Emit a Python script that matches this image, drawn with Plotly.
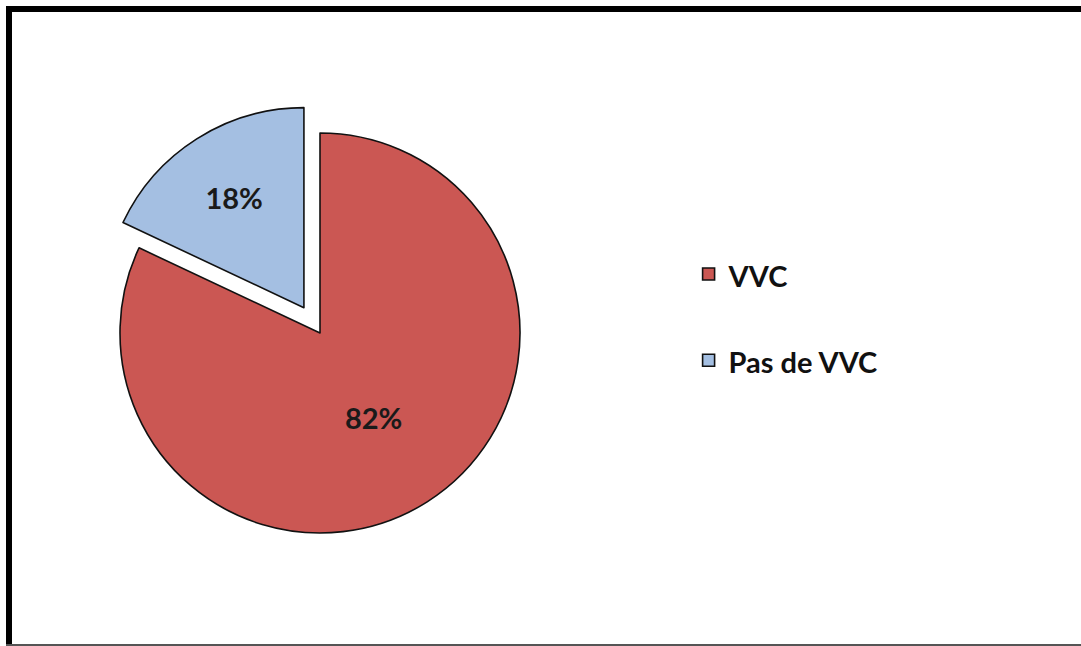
import plotly.graph_objects as go

# Slice data
labels = ["VVC", "Pas de VVC"]
values = [82, 18]
colors = ["#CB5753", "#A4BFE2"]
pulls = [0, 0.15]

W, H = 1081, 646

# Pie centre and radius in pixels; domain sized so radius*(1+pull) fits
cx, cy, r = 320, 333, 200
half = r * (1 + max(pulls))
dom_x = [(cx - half) / W, (cx + half) / W]
dom_y = [(H - cy - half) / H, (H - cy + half) / H]

# Legend labels carry a spacer line to open up the gap between entries
legend_labels = [
    f"<span style='font-size:29px'>{lab}</span><br>\u00a0" for lab in labels
]

fig = go.Figure(
    go.Pie(
        labels=legend_labels,
        values=values,
        sort=False,
        direction="clockwise",
        rotation=0,
        pull=pulls,
        marker=dict(colors=colors, line=dict(color="#111111", width=1.6)),
        texttemplate="%{percent:.0%}",
        textposition="inside",
        insidetextorientation="horizontal",
        textfont=dict(family="Lato", size=29, color="#1a1a1a", weight="bold"),
        domain=dict(x=dom_x, y=dom_y),
        hoverinfo="label+percent",
    )
)

fig.update_layout(
    width=W,
    height=H,
    margin=dict(l=0, r=0, t=0, b=0),
    paper_bgcolor="white",
    plot_bgcolor="white",
    showlegend=True,
    legend=dict(
        x=0.637,
        y=0.618,
        xanchor="left",
        yanchor="top",
        valign="top",
        font=dict(family="Lato", size=32, color="#111111", weight="bold"),
        bgcolor="rgba(0,0,0,0)",
    ),
    shapes=[
        # thick frame edges along top and left, thin rule at bottom
        dict(type="rect", xref="paper", yref="paper", x0=6 / W, x1=1, y0=(H - 12) / H, y1=(H - 6) / H,
             fillcolor="black", line=dict(width=0), layer="above"),
        dict(type="rect", xref="paper", yref="paper", x0=6 / W, x1=12 / W, y0=0, y1=(H - 6) / H,
             fillcolor="black", line=dict(width=0), layer="above"),
        dict(type="rect", xref="paper", yref="paper", x0=6 / W, x1=1, y0=0, y1=2 / H,
             fillcolor="#555555", line=dict(width=0), layer="above"),
    ],
)

fig.write_html("out.html")
